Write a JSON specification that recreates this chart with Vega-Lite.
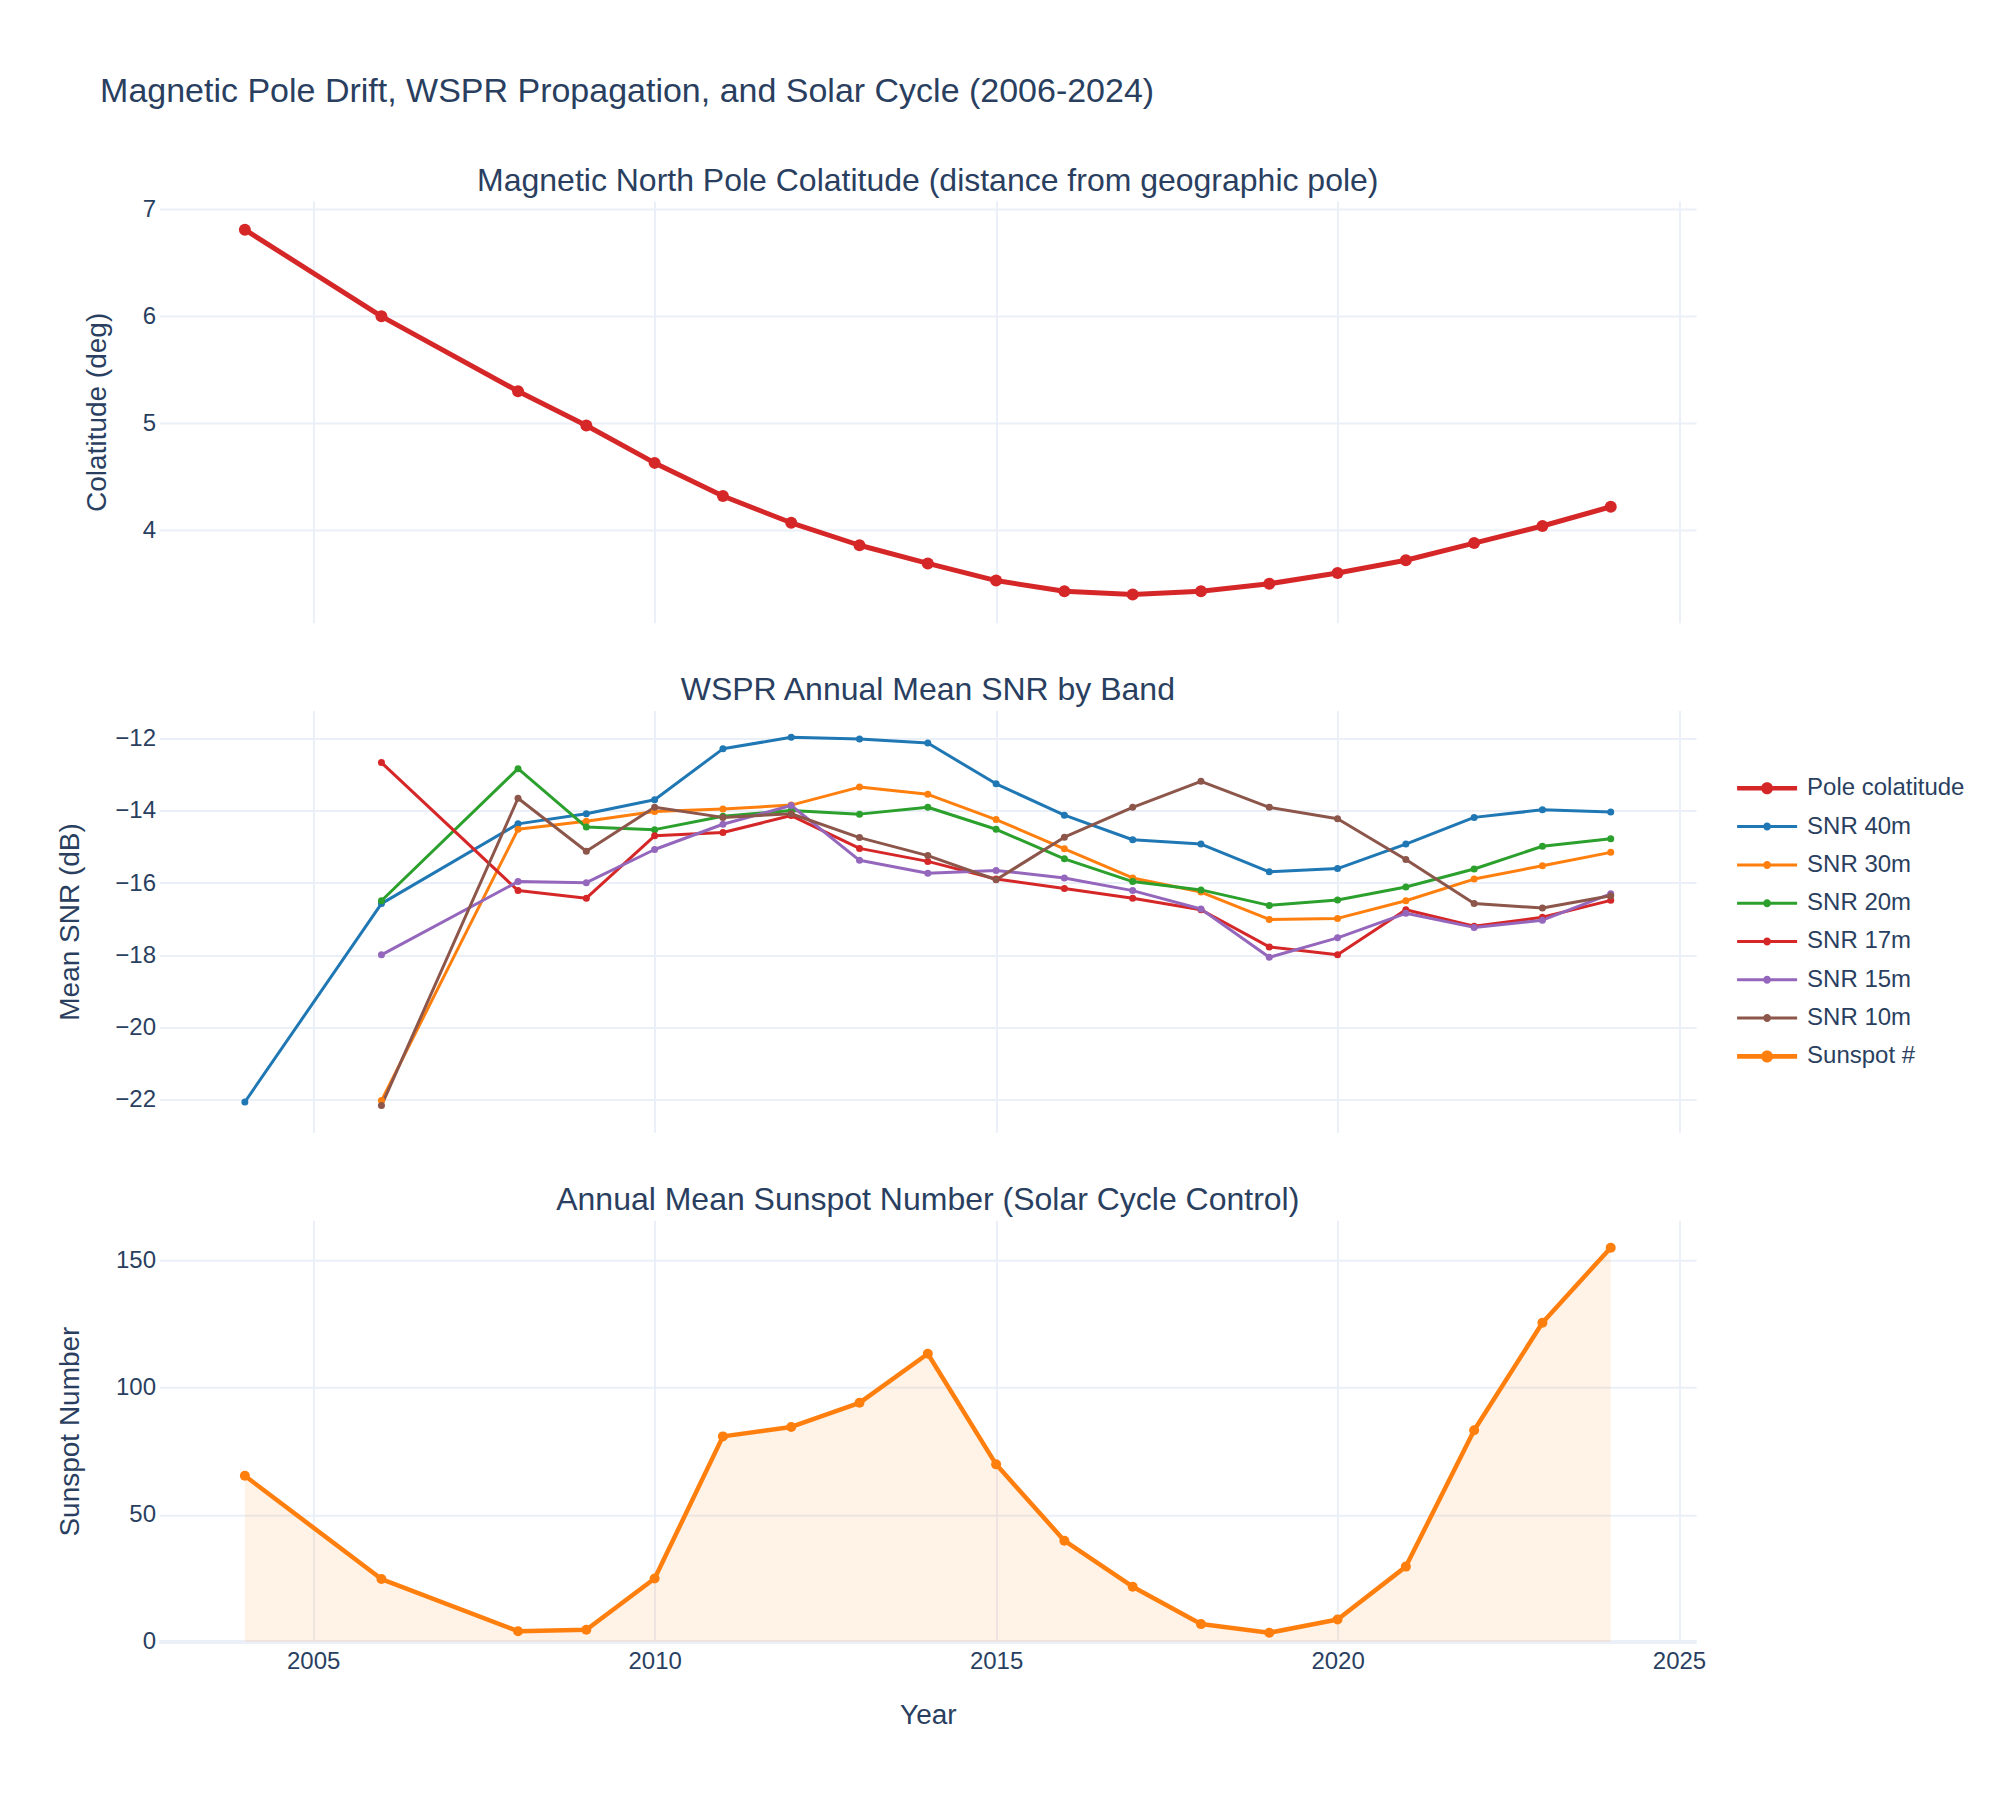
{
  "$schema": "https://vega.github.io/schema/vega-lite/v6.json",
  "background": "white",
  "padding": {"left": 55.5, "top": 74, "right": 10, "bottom": 10},
  "title": {
    "text": "Magnetic Pole Drift, WSPR Propagation, and Solar Cycle (2006-2024)",
    "anchor": "start",
    "frame": "group",
    "fontSize": 34,
    "dx": -59.4,
    "offset": 56
  },
  "config": {
    "font": "Liberation Sans",
    "view": {"stroke": null},
    "title": {"font": "Liberation Sans", "fontSize": 32, "fontWeight": "normal", "color": "#2a3f5f", "baseline": "bottom", "offset": 3.3},
    "axis": {
      "domain": false,
      "ticks": false,
      "grid": true,
      "gridColor": "#EBF0F8",
      "gridWidth": 2,
      "labelFont": "Liberation Sans",
      "labelFontSize": 24,
      "labelColor": "#2a3f5f",
      "labelPadding": 4,
      "labelFlush": false,
      "labelOverlap": false,
      "titleFont": "Liberation Sans",
      "titleFontSize": 28,
      "titleFontWeight": "normal",
      "titleColor": "#2a3f5f",
      "titlePadding": 30.5
    },
    "legend": {
      "orient": "none",
      "legendX": 1577.6,
      "legendY": 65.7,
      "padding": 0,
      "title": null,
      "labelFont": "Liberation Sans",
      "labelFontSize": 24,
      "labelColor": "#2a3f5f",
      "labelOffset": 46,
      "rowPadding": 14.3,
      "symbolSize": 576,
      "symbolStrokeWidth": 0,
      "symbolType": "M-1,-0.125H4V0.125H-1Z M1.833,0A0.333,0.333 0 1,1 1.167,0A0.333,0.333 0 1,1 1.833,0Z"
    }
  },
  "datasets": {
    "pole": [
      {"year": 2004, "colatitude": 6.81},
      {"year": 2006, "colatitude": 6.00},
      {"year": 2008, "colatitude": 5.30},
      {"year": 2009, "colatitude": 4.98},
      {"year": 2010, "colatitude": 4.63},
      {"year": 2011, "colatitude": 4.32},
      {"year": 2012, "colatitude": 4.07},
      {"year": 2013, "colatitude": 3.86},
      {"year": 2014, "colatitude": 3.69},
      {"year": 2015, "colatitude": 3.53},
      {"year": 2016, "colatitude": 3.43},
      {"year": 2017, "colatitude": 3.40},
      {"year": 2018, "colatitude": 3.43},
      {"year": 2019, "colatitude": 3.50},
      {"year": 2020, "colatitude": 3.60},
      {"year": 2021, "colatitude": 3.72},
      {"year": 2022, "colatitude": 3.88},
      {"year": 2023, "colatitude": 4.04},
      {"year": 2024, "colatitude": 4.22}
    ],
    "snr": [
      {"year": 2004, "band": "SNR 40m", "snr": -22.07},
      {"year": 2006, "band": "SNR 40m", "snr": -16.57},
      {"year": 2008, "band": "SNR 40m", "snr": -14.36},
      {"year": 2009, "band": "SNR 40m", "snr": -14.08},
      {"year": 2010, "band": "SNR 40m", "snr": -13.69},
      {"year": 2011, "band": "SNR 40m", "snr": -12.28},
      {"year": 2012, "band": "SNR 40m", "snr": -11.96},
      {"year": 2013, "band": "SNR 40m", "snr": -12.01},
      {"year": 2014, "band": "SNR 40m", "snr": -12.12},
      {"year": 2015, "band": "SNR 40m", "snr": -13.25},
      {"year": 2016, "band": "SNR 40m", "snr": -14.12},
      {"year": 2017, "band": "SNR 40m", "snr": -14.80},
      {"year": 2018, "band": "SNR 40m", "snr": -14.92},
      {"year": 2019, "band": "SNR 40m", "snr": -15.69},
      {"year": 2020, "band": "SNR 40m", "snr": -15.60},
      {"year": 2021, "band": "SNR 40m", "snr": -14.92},
      {"year": 2022, "band": "SNR 40m", "snr": -14.18},
      {"year": 2023, "band": "SNR 40m", "snr": -13.97},
      {"year": 2024, "band": "SNR 40m", "snr": -14.03},
      {"year": 2006, "band": "SNR 30m", "snr": -22.03},
      {"year": 2008, "band": "SNR 30m", "snr": -14.51},
      {"year": 2009, "band": "SNR 30m", "snr": -14.29},
      {"year": 2010, "band": "SNR 30m", "snr": -14.02},
      {"year": 2011, "band": "SNR 30m", "snr": -13.95},
      {"year": 2012, "band": "SNR 30m", "snr": -13.84},
      {"year": 2013, "band": "SNR 30m", "snr": -13.34},
      {"year": 2014, "band": "SNR 30m", "snr": -13.54},
      {"year": 2015, "band": "SNR 30m", "snr": -14.24},
      {"year": 2016, "band": "SNR 30m", "snr": -15.05},
      {"year": 2017, "band": "SNR 30m", "snr": -15.86},
      {"year": 2018, "band": "SNR 30m", "snr": -16.25},
      {"year": 2019, "band": "SNR 30m", "snr": -17.01},
      {"year": 2020, "band": "SNR 30m", "snr": -16.98},
      {"year": 2021, "band": "SNR 30m", "snr": -16.49},
      {"year": 2022, "band": "SNR 30m", "snr": -15.89},
      {"year": 2023, "band": "SNR 30m", "snr": -15.52},
      {"year": 2024, "band": "SNR 30m", "snr": -15.15},
      {"year": 2006, "band": "SNR 20m", "snr": -16.49},
      {"year": 2008, "band": "SNR 20m", "snr": -12.83},
      {"year": 2009, "band": "SNR 20m", "snr": -14.45},
      {"year": 2010, "band": "SNR 20m", "snr": -14.52},
      {"year": 2011, "band": "SNR 20m", "snr": -14.15},
      {"year": 2012, "band": "SNR 20m", "snr": -13.99},
      {"year": 2013, "band": "SNR 20m", "snr": -14.09},
      {"year": 2014, "band": "SNR 20m", "snr": -13.90},
      {"year": 2015, "band": "SNR 20m", "snr": -14.51},
      {"year": 2016, "band": "SNR 20m", "snr": -15.33},
      {"year": 2017, "band": "SNR 20m", "snr": -15.96},
      {"year": 2018, "band": "SNR 20m", "snr": -16.19},
      {"year": 2019, "band": "SNR 20m", "snr": -16.62},
      {"year": 2020, "band": "SNR 20m", "snr": -16.47},
      {"year": 2021, "band": "SNR 20m", "snr": -16.11},
      {"year": 2022, "band": "SNR 20m", "snr": -15.61},
      {"year": 2023, "band": "SNR 20m", "snr": -14.98},
      {"year": 2024, "band": "SNR 20m", "snr": -14.77},
      {"year": 2006, "band": "SNR 17m", "snr": -12.66},
      {"year": 2008, "band": "SNR 17m", "snr": -16.21},
      {"year": 2009, "band": "SNR 17m", "snr": -16.42},
      {"year": 2010, "band": "SNR 17m", "snr": -14.69},
      {"year": 2011, "band": "SNR 17m", "snr": -14.60},
      {"year": 2012, "band": "SNR 17m", "snr": -14.13},
      {"year": 2013, "band": "SNR 17m", "snr": -15.04},
      {"year": 2014, "band": "SNR 17m", "snr": -15.40},
      {"year": 2015, "band": "SNR 17m", "snr": -15.89},
      {"year": 2016, "band": "SNR 17m", "snr": -16.15},
      {"year": 2017, "band": "SNR 17m", "snr": -16.42},
      {"year": 2018, "band": "SNR 17m", "snr": -16.74},
      {"year": 2019, "band": "SNR 17m", "snr": -17.77},
      {"year": 2020, "band": "SNR 17m", "snr": -17.99},
      {"year": 2021, "band": "SNR 17m", "snr": -16.74},
      {"year": 2022, "band": "SNR 17m", "snr": -17.20},
      {"year": 2023, "band": "SNR 17m", "snr": -16.95},
      {"year": 2024, "band": "SNR 17m", "snr": -16.48},
      {"year": 2006, "band": "SNR 15m", "snr": -17.99},
      {"year": 2008, "band": "SNR 15m", "snr": -15.96},
      {"year": 2009, "band": "SNR 15m", "snr": -15.99},
      {"year": 2010, "band": "SNR 15m", "snr": -15.07},
      {"year": 2011, "band": "SNR 15m", "snr": -14.37},
      {"year": 2012, "band": "SNR 15m", "snr": -13.85},
      {"year": 2013, "band": "SNR 15m", "snr": -15.37},
      {"year": 2014, "band": "SNR 15m", "snr": -15.73},
      {"year": 2015, "band": "SNR 15m", "snr": -15.65},
      {"year": 2016, "band": "SNR 15m", "snr": -15.86},
      {"year": 2017, "band": "SNR 15m", "snr": -16.21},
      {"year": 2018, "band": "SNR 15m", "snr": -16.72},
      {"year": 2019, "band": "SNR 15m", "snr": -18.06},
      {"year": 2020, "band": "SNR 15m", "snr": -17.52},
      {"year": 2021, "band": "SNR 15m", "snr": -16.84},
      {"year": 2022, "band": "SNR 15m", "snr": -17.23},
      {"year": 2023, "band": "SNR 15m", "snr": -17.03},
      {"year": 2024, "band": "SNR 15m", "snr": -16.30},
      {"year": 2006, "band": "SNR 10m", "snr": -22.17},
      {"year": 2008, "band": "SNR 10m", "snr": -13.65},
      {"year": 2009, "band": "SNR 10m", "snr": -15.12},
      {"year": 2010, "band": "SNR 10m", "snr": -13.90},
      {"year": 2011, "band": "SNR 10m", "snr": -14.18},
      {"year": 2012, "band": "SNR 10m", "snr": -14.08},
      {"year": 2013, "band": "SNR 10m", "snr": -14.74},
      {"year": 2014, "band": "SNR 10m", "snr": -15.24},
      {"year": 2015, "band": "SNR 10m", "snr": -15.91},
      {"year": 2016, "band": "SNR 10m", "snr": -14.73},
      {"year": 2017, "band": "SNR 10m", "snr": -13.90},
      {"year": 2018, "band": "SNR 10m", "snr": -13.18},
      {"year": 2019, "band": "SNR 10m", "snr": -13.90},
      {"year": 2020, "band": "SNR 10m", "snr": -14.22},
      {"year": 2021, "band": "SNR 10m", "snr": -15.35},
      {"year": 2022, "band": "SNR 10m", "snr": -16.57},
      {"year": 2023, "band": "SNR 10m", "snr": -16.69},
      {"year": 2024, "band": "SNR 10m", "snr": -16.35}
    ],
    "sunspots": [
      {"year": 2004, "sunspot": 65.3},
      {"year": 2006, "sunspot": 24.7},
      {"year": 2008, "sunspot": 4.2},
      {"year": 2009, "sunspot": 4.8},
      {"year": 2010, "sunspot": 24.9},
      {"year": 2011, "sunspot": 80.8},
      {"year": 2012, "sunspot": 84.5},
      {"year": 2013, "sunspot": 94.0},
      {"year": 2014, "sunspot": 113.3},
      {"year": 2015, "sunspot": 69.8},
      {"year": 2016, "sunspot": 39.8},
      {"year": 2017, "sunspot": 21.7},
      {"year": 2018, "sunspot": 7.0},
      {"year": 2019, "sunspot": 3.6},
      {"year": 2020, "sunspot": 8.8},
      {"year": 2021, "sunspot": 29.6},
      {"year": 2022, "sunspot": 83.2},
      {"year": 2023, "sunspot": 125.5},
      {"year": 2024, "sunspot": 155.0}
    ]
  },
  "bounds": "flush",
  "spacing": 87.6,
  "resolve": {"scale": {"color": "independent", "x": "independent", "y": "independent"}, "legend": {"color": "independent"}},
  "vconcat": [
    {
      "width": 1536.6,
      "height": 421.7,
      "title": {"text": "Magnetic North Pole Colatitude (distance from geographic pole)", "offset": -0.4},
      "data": {"name": "pole"},
      "encoding": {
        "x": {"field": "year", "type": "quantitative", "scale": {"domain": [2002.75, 2025.25], "nice": false, "zero": false},
              "axis": {"values": [2005, 2010, 2015, 2020, 2025], "labels": false, "title": null}},
        "y": {"field": "colatitude", "type": "quantitative", "scale": {"domain": [3.136, 7.078], "nice": false, "zero": false},
              "axis": {"values": [4, 5, 6, 7], "title": "Colatitude (deg)"}}
      },
      "layer": [
        {"mark": {"type": "line", "color": "#d62728", "strokeWidth": 5, "strokeJoin": "round"}},
        {"mark": {"type": "circle", "color": "#d62728", "size": 144, "opacity": 1}}
      ]
    },
    {
      "width": 1536.6,
      "height": 421.7,
      "title": {"text": "WSPR Annual Mean SNR by Band"},
      "data": {"name": "snr"},
      "encoding": {
        "x": {"field": "year", "type": "quantitative", "scale": {"domain": [2002.75, 2025.25], "nice": false, "zero": false},
              "axis": {"values": [2005, 2010, 2015, 2020, 2025], "labels": false, "title": null}},
        "y": {"field": "snr", "type": "quantitative", "scale": {"domain": [-22.91, -11.22], "nice": false, "zero": false},
              "axis": {"values": [-22, -20, -18, -16, -14, -12], "title": "Mean SNR (dB)"}},
        "color": {
          "field": "band", "type": "nominal",
          "scale": {
            "domain": ["Pole colatitude", "SNR 40m", "SNR 30m", "SNR 20m", "SNR 17m", "SNR 15m", "SNR 10m", "Sunspot #"],
            "range": ["#d62728", "#1f77b4", "#ff7f0e", "#2ca02c", "#d62728", "#9467bd", "#8c564b", "#ff7f0e"]
          },
          "legend": {
            "encode": {
              "symbols": {
                "update": {
                  "shape": {"signal": "datum.value === 'Pole colatitude' || datum.value === 'Sunspot #' ? 'M-1,-0.19H4V0.19H-1Z M2,0A0.5,0.5 0 1,1 1,0A0.5,0.5 0 1,1 2,0Z' : 'M-1,-0.125H4V0.125H-1Z M1.833,0A0.333,0.333 0 1,1 1.167,0A0.333,0.333 0 1,1 1.833,0Z'"},
                  "fill": {"signal": "datum.value === 'SNR 40m' ? '#1f77b4' : datum.value === 'SNR 30m' || datum.value === 'Sunspot #' ? '#ff7f0e' : datum.value === 'SNR 20m' ? '#2ca02c' : datum.value === 'SNR 15m' ? '#9467bd' : datum.value === 'SNR 10m' ? '#8c564b' : '#d62728'"},
                  "stroke": {"value": "transparent"},
                  "opacity": {"value": 1}
                }
              }
            }
          }
        }
      },
      "layer": [
        {"mark": {"type": "line", "strokeWidth": 3, "strokeJoin": "round"}},
        {"mark": {"type": "circle", "size": 49, "opacity": 1}}
      ]
    },
    {
      "width": 1536.6,
      "height": 421.7,
      "title": {"text": "Annual Mean Sunspot Number (Solar Cycle Control)"},
      "data": {"name": "sunspots"},
      "encoding": {
        "x": {"field": "year", "type": "quantitative", "scale": {"domain": [2002.75, 2025.25], "nice": false, "zero": false},
              "axis": {"values": [2005, 2010, 2015, 2020, 2025], "format": "d", "title": "Year", "labelPadding": 8, "titlePadding": 28}},
        "y": {"field": "sunspot", "type": "quantitative", "scale": {"domain": [0, 165.8], "nice": false},
              "axis": {"values": [0, 50, 100, 150], "title": "Sunspot Number"}}
      },
      "layer": [
        {"mark": {"type": "rule", "color": "#EBF0F8", "strokeWidth": 4}, "encoding": {"x": null, "y": {"datum": 0}}},
        {"mark": {"type": "area", "color": "#ff7f0e", "opacity": 0.1}},
        {"mark": {"type": "line", "color": "#ff7f0e", "strokeWidth": 4.5, "strokeJoin": "round"}},
        {"mark": {"type": "circle", "color": "#ff7f0e", "size": 100, "opacity": 1}}
      ]
    }
  ]
}
